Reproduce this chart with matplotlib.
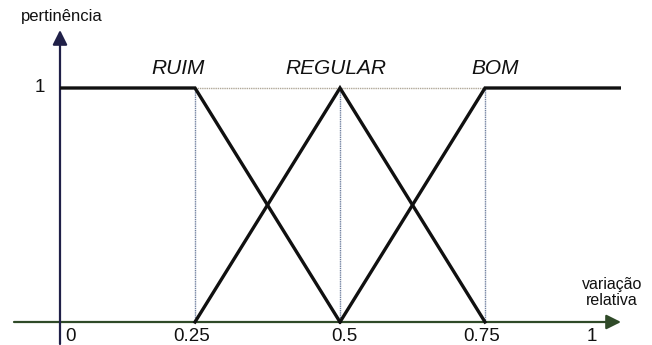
import matplotlib
matplotlib.use("Agg")
import matplotlib.pyplot as plt
from matplotlib.patches import Rectangle

# ---- data ----
categories = ["RUIM", "REGULAR", "BOM"]
ruim_x = [0.0, 0.25, 0.5]
ruim_y = [1.0, 1.0, 0.0]
regular_x = [0.25, 0.5, 0.75]
regular_y = [0.0, 1.0, 0.0]
bom_x = [0.5, 0.75, 1.0]
bom_y = [0.0, 1.0, 1.0]
peaks = [0.25, 0.5, 0.75]
xtick_values = [0, 0.25, 0.5, 0.75, 1]
xtick_labels = ["0", "0.25", "0.5", "0.75", "1"]
ytick_label = "1"
ylabel = "pertinência"
xlabel = "variação\nrelativa"

# ---- layout (pixel based) ----
W, H, DPI = 652, 345, 100
PX0, PXU = 50.0, 580.0       # pixel of x=0, pixels per unit x
PY0, PYU = 322.0, 234.0      # pixel (from top) of y=0, pixels per unit y

def dx(px):
    return (px - PX0) / PXU

def dy(py):
    return (PY0 - py) / PYU

plt.rcParams['font.family'] = ['Liberation Sans', 'DejaVu Sans']
fig = plt.figure(figsize=(W / DPI, H / DPI), dpi=DPI)
ax = fig.add_axes([0, 0, 1, 1])
ax.set_xlim(dx(0), dx(W))
ax.set_ylim(dy(H), dy(0))
ax.axis("off")

yaxis_x = dx(60)
clip = Rectangle((yaxis_x, dy(H)), dx(621) - yaxis_x, dy(0) - dy(H),
                 transform=ax.transData, visible=False)
ax.add_patch(clip)

# thin guide lines
ax.plot([peaks[0], peaks[-1]], [1, 1], color="#b0a898", lw=1.0, ls=(0, (1, 0.6)), zorder=1)
for p in peaks:
    ax.plot([p, p], [0, 1], color="#7080a0", lw=1.0, ls=(0, (1, 0.6)), zorder=1)

# membership functions
for xs, ys in [(ruim_x, ruim_y), (regular_x, regular_y), (bom_x, bom_y)]:
    ln, = ax.plot(xs, ys, color="#101010", lw=2.4, solid_joinstyle="miter", zorder=3)
    ln.set_clip_path(clip)

# axes with arrows
ax.annotate("", xy=(dx(621), 0), xytext=(dx(14), 0),
            arrowprops=dict(arrowstyle="-|>", color="#2f4a28", lw=1.6,
                            mutation_scale=22, shrinkA=0, shrinkB=0), zorder=2)
ax.annotate("", xy=(yaxis_x, dy(30)), xytext=(yaxis_x, dy(344)),
            arrowprops=dict(arrowstyle="-|>", color="#202048", lw=1.6,
                            mutation_scale=22, shrinkA=0, shrinkB=0), zorder=2)

# category labels
cat_offsets = [-17, -4, 10]
for name, p, off in zip(categories, peaks, cat_offsets):
    ax.text(p + off / PXU, dy(68.5), name, ha="center", va="center",
            fontsize=15, fontstyle="italic", color="#111111")

# x tick labels
tick_offsets = [20, -3, 4, -3, -38]
for v, lab, off in zip(xtick_values, xtick_labels, tick_offsets):
    ax.text(v + off / PXU, dy(336.5), lab, ha="center", va="center",
            fontsize=13.5, color="#111111")

# y tick label
ax.text(dx(40), 1, ytick_label, ha="center", va="center", fontsize=13.5, color="#111111")

# axis titles
ax.text(dx(62), dy(16), ylabel, ha="center", va="center", fontsize=12, color="#111111")
ax.text(dx(612), dy(292.5), xlabel, ha="center", va="center", fontsize=11.5,
        color="#111111", linespacing=1.15)

fig.savefig("out.png", dpi=DPI)
